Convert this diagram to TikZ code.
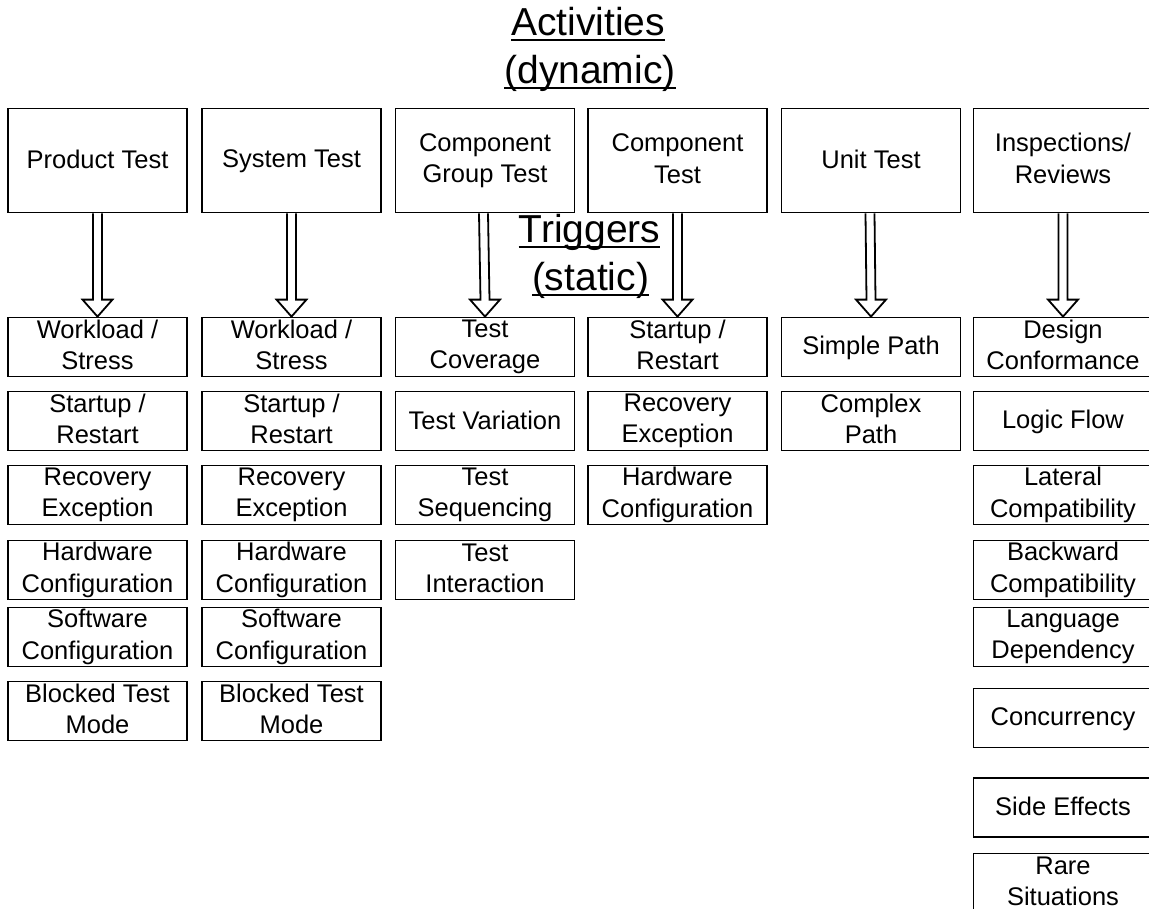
\documentclass[tikz,border=0pt]{standalone}
\usepackage{fontspec}
\setmainfont{Liberation Sans}
\usetikzlibrary{calc}

% underline at a fixed depth below the baseline
\newsavebox\ulinebox
\newcommand\ulined[1]{\sbox\ulinebox{#1}\rlap{\rule[-6bp]{\wd\ulinebox}{2.2bp}}\usebox\ulinebox}

% hollow block arrow from the bottom of #1 to the top of #2; #3 shifts the tail sideways
\newcommand\harrow[3]{%
  \draw[hollow] ($(#1.south)+(#3-4.5,0)$) -- ($(#2.north)+(-4.5,-17)$) -- ++(-10.5,0)
    -- (#2.north) -- ++(15,-17) -- ++(-10.5,0) -- ($(#1.south)+(#3+4.5,0)$);}

\begin{document}
\begin{tikzpicture}[x=1bp, y=-1bp,
  box/.style={draw, line width=1.8bp, minimum width=179bp, minimum height=59bp,
    inner sep=0pt, align=center, font=\fontsize{25.5bp}{31.5bp}\selectfont,
    execute at begin node={\rule{0pt}{20.1bp}},
    execute at end node={\rule[-4bp]{0pt}{4bp}}},
  topbox/.style={box, minimum height=104bp},
  title/.style={inner sep=0pt, anchor=base, font=\fontsize{39bp}{47bp}\selectfont},
  hollow/.style={draw, fill=white, line width=1.8bp, line join=miter}]

\fill[white] (0,0) rectangle (1149,909);
\useasboundingbox (0,0) rectangle (1149,909);

% headings
\node[title] (act)  at (588,35)    {\ulined{Activities}};
\node[title] (dyn)  at (590,83)    {\ulined{(dynamic)}};
\node[title] (trg)  at (589.5,242) {\ulined{Triggers}};
\node[title] (stat) at (590.5,290) {\ulined{(static)}};

% activities
\node[topbox] (t1) at (97.5,160.5)  {Product Test};
\node[topbox] (t2) at (291.5,160.5) {System Test};
\node[topbox] (t3) at (485,160.5)   {Component\\Group Test};
\node[topbox] (t4) at (677.5,160.5) {Component\\Test};
\node[topbox] (t5) at (871,160.5)   {Unit Test};
\node[topbox] (t6) at (1063,160.5)  {Inspections/\\Reviews};

% product test triggers
\node[box] (p1) at (97.5,347) {Workload /\\Stress};
\node[box] (p2) at (97.5,421) {Startup /\\Restart};
\node[box] (p3) at (97.5,495) {Recovery\\Exception};
\node[box] (p4) at (97.5,570) {Hardware\\Configuration};
\node[box] (p5) at (97.5,637) {Software\\Configuration};
\node[box] (p6) at (97.5,711) {Blocked Test\\Mode};

% system test triggers
\node[box] (s1) at (291.5,347) {Workload /\\Stress};
\node[box] (s2) at (291.5,421) {Startup /\\Restart};
\node[box] (s3) at (291.5,495) {Recovery\\Exception};
\node[box] (s4) at (291.5,570) {Hardware\\Configuration};
\node[box] (s5) at (291.5,637) {Software\\Configuration};
\node[box] (s6) at (291.5,711) {Blocked Test\\Mode};

% component group test triggers
\node[box] (g1) at (485,347) {Test\\Coverage};
\node[box] (g2) at (485,421) {Test Variation};
\node[box] (g3) at (485,495) {Test\\Sequencing};
\node[box] (g4) at (485,570) {Test\\Interaction};

% component test triggers
\node[box] (k1) at (677.5,347) {Startup /\\Restart};
\node[box] (k2) at (677.5,421) {Recovery\\Exception};
\node[box] (k3) at (677.5,495) {Hardware\\Configuration};

% unit test triggers
\node[box] (u1) at (871,347) {Simple Path};
\node[box] (u2) at (871,421) {Complex\\Path};

% inspection / review triggers
\node[box] (i1) at (1063,347)   {Design\\Conformance};
\node[box] (i2) at (1063,421)   {Logic Flow};
\node[box] (i3) at (1063,495)   {Lateral\\Compatibility};
\node[box] (i4) at (1063,570)   {Backward\\Compatibility};
\node[box] (i5) at (1063,637)   {Language\\Dependency};
\node[box] (i6) at (1063,718)   {Concurrency};
\node[box] (i7) at (1063,807.5) {Side Effects};
\node[box] (i8) at (1063,883)   {Rare\\Situations};

% activity -> trigger arrows
\harrow{t1}{p1}{0}
\harrow{t2}{s1}{0}
\harrow{t3}{g1}{-1.5}
\harrow{t4}{k1}{0}
\harrow{t5}{u1}{-1}
\harrow{t6}{i1}{0}
\end{tikzpicture}
\end{document}
